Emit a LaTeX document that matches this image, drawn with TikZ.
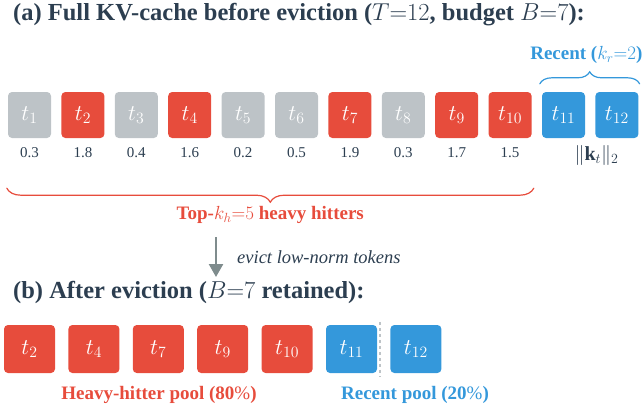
\documentclass[tikz,border=0pt]{standalone}
\usepackage{fix-cm}
\usepackage{fontspec}
\setmainfont{Liberation Serif}
\usetikzlibrary{arrows.meta, positioning, decorations.pathreplacing, calc}

\definecolor{hitred}{HTML}{E74C3C}
\definecolor{recentblue}{HTML}{3498DB}
\definecolor{lowgray}{HTML}{BDC3C7}
\definecolor{inkdark}{HTML}{2C3E50}
\definecolor{arrowgray}{HTML}{7F8C8D}

\begin{document}
\begin{tikzpicture}[
		x=1pt, y=-1pt,
		node distance=10pt,
		tok/.style={rectangle, rounded corners=4pt, minimum width=43pt, minimum height=46pt, inner sep=0pt, text=white, font=\fontsize{22.5}{24}\selectfont},
		heavy/.style={tok, fill=hitred},
		low/.style={tok, fill=lowgray},
		recent/.style={tok, fill=recentblue},
		kept/.style={minimum width=51pt, minimum height=48pt},
		score/.style={inner sep=0pt, text=inkdark, font=\fontsize{15}{17}\selectfont},
		headline/.style={anchor=west, inner sep=0pt, text=inkdark, font=\bfseries\fontsize{24.5}{28}\selectfont},
		tag/.style={inner sep=0pt, font=\bfseries\fontsize{19}{22}\selectfont},
		pbrace/.style={decorate, line width=1.2pt, line cap=round},
		>=Stealth
		]
		\useasboundingbox (0,0) rectangle (644,404);
		
		% (a) full cache
		\node[headline] (titleA) at (13,15) {(a) Full KV-cache before eviction ($T{=}12$, budget $B{=}7$):};
		
		\node[low] at (29.5,115) (t1) {$t_{1}$};
		\node[heavy, right=of t1] (t2) {$t_{2}$};
		\node[low, right=of t2] (t3) {$t_{3}$};
		\node[heavy, right=of t3] (t4) {$t_{4}$};
		\node[low, right=of t4] (t5) {$t_{5}$};
		\node[low, right=of t5] (t6) {$t_{6}$};
		\node[heavy, right=of t6] (t7) {$t_{7}$};
		\node[low, right=of t7] (t8) {$t_{8}$};
		\node[heavy, right=of t8] (t9) {$t_{9}$};
		\node[heavy, right=of t9] (t10) {$t_{10}$};
		\node[recent, right=of t10] (t11) {$t_{11}$};
		\node[recent, right=of t11] (t12) {$t_{12}$};
		
		% key norms
		\node[score, below=9pt of t1] (s1) {0.3};
		\node[score, below=9pt of t2] (s2) {1.8};
		\node[score, below=9pt of t3] (s3) {0.4};
		\node[score, below=9pt of t4] (s4) {1.6};
		\node[score, below=9pt of t5] (s5) {0.2};
		\node[score, below=9pt of t6] (s6) {0.5};
		\node[score, below=9pt of t7] (s7) {1.9};
		\node[score, below=9pt of t8] (s8) {0.3};
		\node[score, below=9pt of t9] (s9) {1.7};
		\node[score, below=9pt of t10] (s10) {1.5};
		\node[score, font=\fontsize{20}{22}\selectfont, below=7pt of t11, xshift=33pt] (norm) {$\|\mathbf{k}_t\|_2$};
		
		% recent window brace
		\coordinate (recL) at ($(t11.north west)+(-2,-8)$);
		\coordinate (recR) at ($(t12.north east)+(1,-8)$);
		\draw[pbrace, recentblue, decoration={brace, amplitude=12pt}] (recL) -- (recR);
		\node[tag, text=recentblue, anchor=east] at ($(recR)+(3,-29)$) (recentlbl) {Recent ($k_r{=}2$)};
		
		% heavy hitter brace
		\coordinate (hitL) at ($(t1.south west)+(-1,50)$);
		\coordinate (hitR) at ($(t10.south east)+(2,50)$);
		\draw[pbrace, hitred, decoration={brace, amplitude=14pt}] (hitR) -- (hitL);
		\node[tag, text=hitred] at ($(hitL)!0.5!(hitR)+(0,27)$) (hitlbl) {Top-$k_h{=}5$ heavy hitters};
		
		% eviction step
		\coordinate (evTop) at (216,237);
		\coordinate (evBot) at (216,277);
		\draw[-{Triangle[length=13pt, width=14pt]}, line width=2.5pt, arrowgray] (evTop) -- (evBot);
		\node[inner sep=0pt, text=inkdark, font=\itshape\fontsize{18.5}{21}\selectfont, anchor=west] at (237,257) (evlbl) {evict low-norm tokens};
		
		% (b) after eviction
		\node[headline] (titleB) at (13,292) {(b) After eviction ($B{=}7$ retained):};
		
		\node[heavy, kept] at (29.5,349) (b2) {$t_{2}$};
		\node[heavy, kept, right=13pt of b2] (b4) {$t_{4}$};
		\node[heavy, kept, right=13pt of b4] (b7) {$t_{7}$};
		\node[heavy, kept, right=13pt of b7] (b9) {$t_{9}$};
		\node[heavy, kept, right=13pt of b9] (b10) {$t_{10}$};
		\node[recent, kept, right=13pt of b10] (b11) {$t_{11}$};
		\node[recent, kept, right=13pt of b11] (b12) {$t_{12}$};
		
		\coordinate (cutT) at ($(b11.north east)+(3,-3)$);
		\coordinate (cutB) at ($(b11.south east)+(3,3)$);
		\draw[lowgray, line width=1.5pt, dashed] (cutT) -- (cutB);
		
		\node[tag, text=hitred] at (159,395) (hhpool) {Heavy-hitter pool (80$\%$)};
		\node[tag, text=recentblue] at (415,395) (rcpool) {Recent pool (20$\%$)};
		
	\end{tikzpicture}
\end{document}
